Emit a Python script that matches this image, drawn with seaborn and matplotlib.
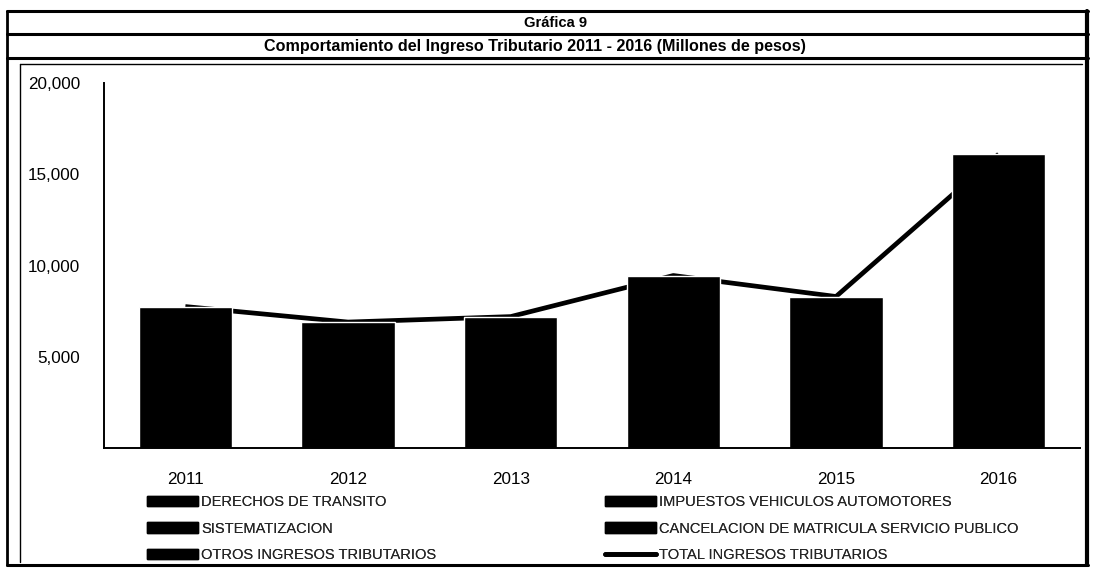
import matplotlib
matplotlib.use("Agg")
import matplotlib.pyplot as plt
import seaborn as sns
from matplotlib import font_manager
from matplotlib.patches import Patch
from matplotlib.lines import Line2D

# ---------------- data (millones de pesos) ----------------
years = ["2011", "2012", "2013", "2014", "2015", "2016"]
total_ingresos = [7750, 6900, 7200, 9450, 8300, 16100]
series_labels = [
    "DERECHOS DE TRANSITO",
    "IMPUESTOS VEHICULOS AUTOMOTORES",
    "SISTEMATIZACION",
    "CANCELACION DE MATRICULA SERVICIO PUBLICO",
    "OTROS INGRESOS TRIBUTARIOS",
]
line_label = "TOTAL INGRESOS TRIBUTARIOS"
y_ticks = [5000, 10000, 15000, 20000]
title_top = "Gráfica 9"
title_sub = "Comportamiento del Ingreso Tributario 2011 - 2016 (Millones de pesos)"

# ---------------- fonts ----------------
sns.set_theme(style="white")
names = {f.name for f in font_manager.fontManager.ttflist}
if "Liberation Sans Narrow" in names:
    FONT, k = "Liberation Sans Narrow", 1.0
else:
    FONT, k = "Liberation Sans", 0.82
plt.rcParams["font.family"] = [FONT, "DejaVu Sans"]

W, H, DPI = 1093, 579, 100
fig = plt.figure(figsize=(W / DPI, H / DPI), dpi=DPI)
fig.patch.set_facecolor("white")

def fx(px):
    return px / W

def fy(py):
    return 1 - py / H

ax = fig.add_axes([fx(104), fy(448), fx(1080) - fx(104), fy(83) - fy(448)])

sns.lineplot(x=years, y=total_ingresos, color="black", linewidth=3.4,
             sort=False, ax=ax, zorder=1)
sns.barplot(x=years, y=total_ingresos, color="black", saturation=1,
            width=0.575, ax=ax, zorder=2)
for ln in ax.lines:
    ln.set_solid_capstyle("butt")

ax.set_xlim(-0.5, 5.5)
ax.set_ylim(0, 20000)
ax.set_yticks(y_ticks)
ax.set_yticklabels([f"{v:,}" for v in y_ticks])
ax.set_xlabel("")
ax.set_ylabel("")
ax.tick_params(axis="both", length=0, colors="black")
ax.tick_params(axis="y", pad=17, labelsize=15 * k)
ax.tick_params(axis="x", pad=17, labelsize=15 * k)
for s in ["top", "right"]:
    ax.spines[s].set_visible(False)
for s in ["left", "bottom"]:
    ax.spines[s].set_color("black")
    ax.spines[s].set_linewidth(1.4)
ax.set_facecolor("white")
ax.grid(False)

# ---------------- legend ----------------
fs_leg = 12.8 * k
h_patch = [Patch(facecolor="black", edgecolor="black") for _ in series_labels]
h_line = Line2D([0], [0], color="black", linewidth=3.4)
col1 = [(h_patch[0], series_labels[0]), (h_patch[2], series_labels[2]),
        (h_patch[4], series_labels[4])]
col2 = [(h_patch[1], series_labels[1]), (h_patch[3], series_labels[3]),
        (h_line, line_label)]
for col, x0 in [(col1, 147), (col2, 605)]:
    leg = fig.legend([c[0] for c in col], [c[1] for c in col],
                     loc="upper left", bbox_to_anchor=(fx(x0), fy(495)),
                     frameon=False, fontsize=fs_leg, handlelength=3.5,
                     handleheight=0.72, handletextpad=0.2, labelspacing=0.87,
                     borderpad=0, borderaxespad=0)
    fig.add_artist(leg)

# ---------------- titles and frame ----------------
fig.text(fx(555), fy(23), title_top, ha="center", va="center",
         fontsize=13 * k, fontweight="bold", color="black")
fig.text(fx(535), fy(46), title_sub, ha="center", va="center",
         fontsize=14.2 * k, fontweight="bold", color="black")

def hline(y, x0, x1, lw):
    fig.add_artist(Line2D([fx(x0), fx(x1)], [fy(y), fy(y)], color="black",
                          linewidth=lw, transform=fig.transFigure))

def vline(x, y0, y1, lw):
    fig.add_artist(Line2D([fx(x), fx(x)], [fy(y0), fy(y1)], color="black",
                          linewidth=lw, transform=fig.transFigure))

hline(11, 7, 1088, 2.2)
hline(34, 7, 1088, 2.2)
hline(58, 7, 1088, 2.2)
hline(565, 7, 1088, 2.2)
vline(7, 11, 565, 2.0)
vline(1087, 11, 565, 3.0)
# inner chart-area frame
hline(64, 20, 1082, 1.0)
vline(20, 64, 562, 1.0)

fig.savefig("out.png", dpi=DPI, facecolor="white")
